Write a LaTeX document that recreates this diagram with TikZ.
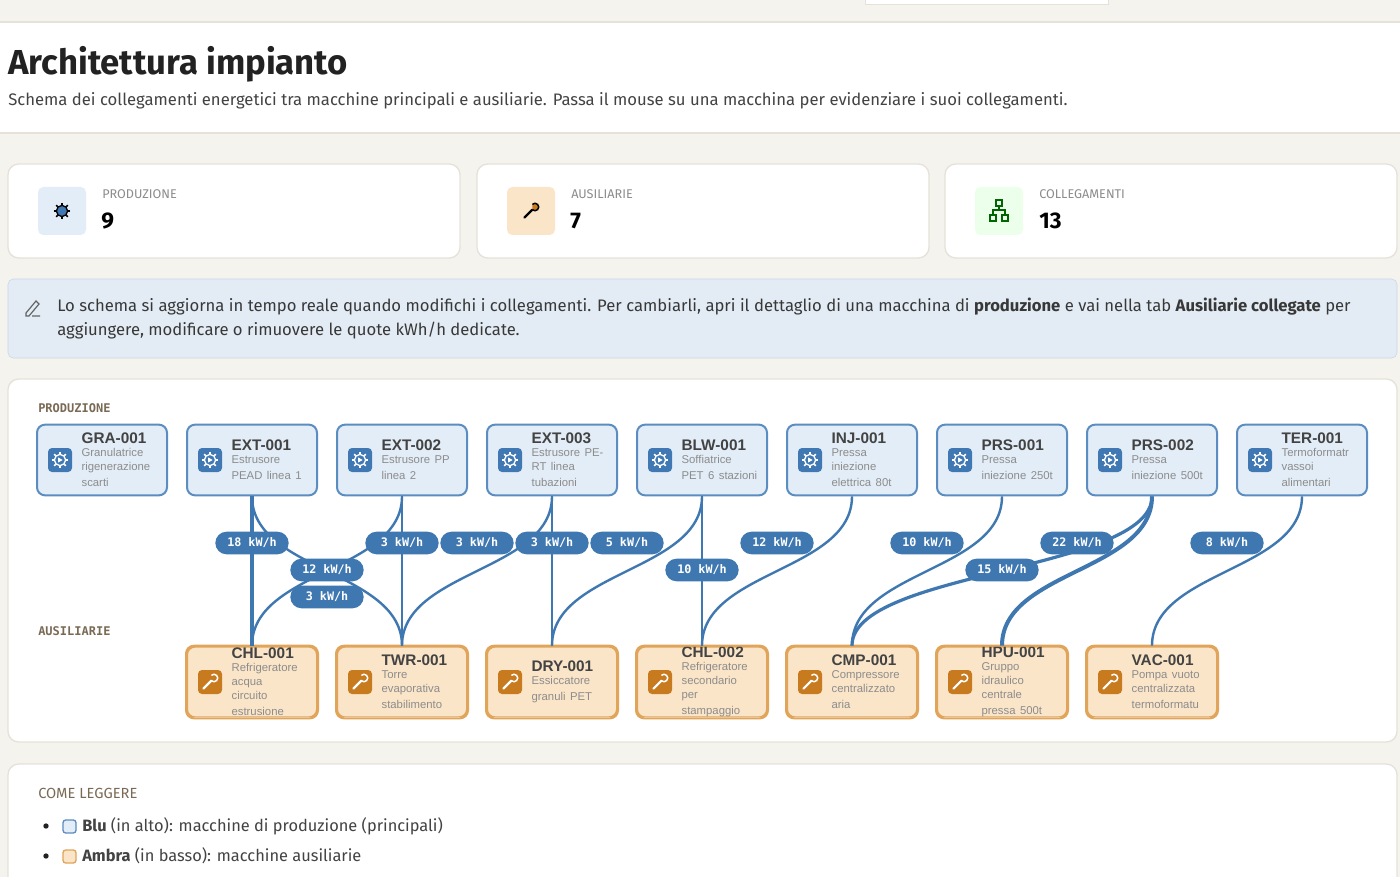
\documentclass[tikz,border=0pt]{standalone}
\usepackage{fontspec}
\setmainfont{Fira Sans}
\newfontfamily\monof{DejaVu Sans Mono}
\newfontfamily\nodef{Liberation Sans}
\newcommand\nohy{\hyphenpenalty=10000\exhyphenpenalty=10000\relax}
\definecolor{bg}{HTML}{F5F3EE}
\definecolor{edge}{HTML}{3F77B0}
\definecolor{pfill}{HTML}{E3EDF7}
\definecolor{pbord}{HTML}{5B8DC0}
\definecolor{picon}{HTML}{3F78B3}
\definecolor{afill}{HTML}{FBE5C8}
\definecolor{abord}{HTML}{E0A55A}
\definecolor{aicon}{HTML}{C87A1E}
\definecolor{gtxt}{HTML}{8C8C8C}
\definecolor{dtxt}{HTML}{222222}
\definecolor{brown}{HTML}{7A6A55}
\definecolor{cardb}{HTML}{E6E2DA}
\definecolor{infof}{HTML}{E3ECF5}
\definecolor{infob}{HTML}{C5D6E6}
\begin{document}
\begin{tikzpicture}[x=0.75pt,y=-0.75pt,
  pbox/.style={draw=pbord,fill=pfill,line width=1.5pt,rounded corners=6pt,minimum width=97.5pt,minimum height=53pt,inner sep=0},
  abox/.style={draw=abord,fill=afill,line width=1.5pt,rounded corners=6pt,minimum width=97.5pt,minimum height=53pt,inner sep=0},
  picon/.style={fill=picon,rounded corners=3pt,minimum size=18pt,inner sep=0},
  aicon/.style={fill=aicon,rounded corners=3pt,minimum size=18pt,inner sep=0},
  mtext/.style={anchor=west,align=left,inner sep=0,text width=70pt,font=\nodef\nohy},
  card/.style={draw=cardb,fill=white,line width=1pt,rounded corners=8pt},
  e/.style={draw=edge,line width=1.8pt},
  eb/.style={draw=edge,line width=3pt},
  em/.style={draw=edge,line width=2.4pt},
  lab/.style={fill=edge,text=white,rounded corners=8.5pt,minimum width=55pt,minimum height=17pt,inner sep=0,font=\monof\bfseries\fontsize{8.8}{8.8}\selectfont},
  small/.style={font=\fontsize{9.5}{9.5}\selectfont,text=gtxt,anchor=west,inner sep=0}]
\newcommand\gearico[2]{\draw[#2,line width=1pt] (#1) circle (4.2pt);
  \foreach \a in {0,45,...,315}{\draw[#2,line width=1.3pt] ($(#1)+(\a:4.6pt)$) -- ($(#1)+(\a:6.2pt)$);}
  \fill[#2] ($(#1)+(-1.4pt,-1.9pt)$) -- ($(#1)+(-1.4pt,1.9pt)$) -- ($(#1)+(2pt,0)$) -- cycle;}
\newcommand\wrenchico[2]{\draw[#2,line width=1.6pt,line cap=round] ($(#1)+(-5pt,-5pt)$) -- ($(#1)+(1pt,1pt)$);
  \draw[#2,line width=1.1pt] ($(#1)+(3pt,3pt)$) ++(225:2.8pt) arc (225:495:2.8pt);}
\newcommand\mach[6]{%
  \node[#6box] (#1) at (#2,#3) {};
  \node[#6icon] (#1i) at ([xshift=18pt]#1.west) {};
  \ifx#6p\gearico{#1i}{white}\else\wrenchico{#1i}{white}\fi
  \node[mtext] at ([xshift=34pt]#1.west) {{\fontsize{11.5}{13}\selectfont\bfseries\color{dtxt!85}#4}\\[-1pt]{\fontsize{8.5}{10.5}\selectfont\color{gtxt}#5}};}
\usetikzlibrary{calc}
\fill[bg] (0,0) rectangle (1400,877);
\useasboundingbox (0,0) rectangle (1400,877);
\fill[white,draw=cardb] (865,-5) rectangle (1108,4);
\fill[white] (0,22) rectangle (1400,133);
\draw[cardb,line width=1pt] (0,22) -- (1400,22) (0,133) -- (1400,133);
\node[anchor=west,inner sep=0,font=\fontsize{26}{26}\selectfont\bfseries,text=dtxt] (title) at (8,64) {Architettura impianto};
\node[anchor=west,inner sep=0,font=\fontsize{12.5}{12.5}\selectfont,text=dtxt!85] (sub) at (8,101) {Schema dei collegamenti energetici tra macchine principali e ausiliarie. Passa il mouse su una macchina per evidenziare i suoi collegamenti.};
\draw[card] (8,164) rectangle (460,258);
\draw[card] (477,164) rectangle (929,258);
\draw[card] (945,164) rectangle (1397,258);
\fill[pfill,rounded corners=4pt] (38,187) rectangle (86,235); \coordinate (g1) at (62,211); \gearico{g1}{picon}
\fill[afill,rounded corners=4pt] (507,187) rectangle (555,235); \coordinate (w1) at (531,211); \wrenchico{w1}{aicon}
\fill[green!8!white,rounded corners=4pt] (975,187) rectangle (1023,235);
\begin{scope}[shift={(999,211)},draw=green!40!black,line width=1pt]
 \draw (-3,-11) rectangle (3,-5); \draw (-9,4) rectangle (-3,10); \draw (3,4) rectangle (9,10);
 \draw (0,-5) -- (0,-1) (-6,4) -- (-6,-1) -- (6,-1) -- (6,4);
\end{scope}
\node[small] (s1) at (102,194) {PRODUZIONE};
\node[small] (s2) at (571,194) {AUSILIARIE};
\node[small] (s3) at (1039,194) {COLLEGAMENTI};
\node[anchor=west,inner sep=0,font=\fontsize{17}{17}\selectfont\bfseries] (n1) at (101,221) {9};
\node[anchor=west,inner sep=0,font=\fontsize{17}{17}\selectfont\bfseries] (n2) at (570,221) {7};
\node[anchor=west,inner sep=0,font=\fontsize{17}{17}\selectfont\bfseries] (n3) at (1039,221) {13};
\draw[fill=infof,draw=infob,rounded corners=4pt] (8,279) rectangle (1397,358);
\draw[dtxt!70,line width=0.9pt] (26,313) -- (36,301) -- (39,304) -- (29,316) -- (26,316) -- cycle (32,316) -- (40,316);
\node[anchor=west,inner sep=0,font=\fontsize{12.5}{12.5}\selectfont,text=dtxt!90] (i1) at (57,307) {Lo schema si aggiorna in tempo reale quando modifichi i collegamenti. Per cambiarli, apri il dettaglio di una macchina di \textbf{produzione} e vai nella tab \textbf{Ausiliarie collegate} per};
\node[anchor=west,inner sep=0,font=\fontsize{12.5}{12.5}\selectfont,text=dtxt!90] (i2) at (57,331) {aggiungere, modificare o rimuovere le quote kWh/h dedicate.};
\draw[card] (8,379) rectangle (1397,742);
\node[anchor=west,inner sep=0,font=\monof\bfseries\fontsize{9}{9}\selectfont,text=brown] (hp) at (38,408) {PRODUZIONE};
\node[anchor=west,inner sep=0,font=\monof\bfseries\fontsize{9}{9}\selectfont,text=brown] (ha) at (38,631) {AUSILIARIE};
\mach{gra}{102}{460}{GRA-001}{Granulatrice\\rigenerazione\\scarti}{p}
\mach{ext1}{252}{460}{EXT-001}{Estrusore\\PEAD linea 1}{p}
\mach{ext2}{402}{460}{EXT-002}{Estrusore PP\\linea 2}{p}
\mach{ext3}{552}{460}{EXT-003}{Estrusore PE-\\RT linea\\tubazioni}{p}
\mach{blw}{702}{460}{BLW-001}{Soffiatrice\\PET 6 stazioni}{p}
\mach{inj}{852}{460}{INJ-001}{Pressa\\iniezione\\elettrica 80t}{p}
\mach{prs1}{1002}{460}{PRS-001}{Pressa\\iniezione 250t}{p}
\mach{prs2}{1152}{460}{PRS-002}{Pressa\\iniezione 500t}{p}
\mach{ter}{1302}{460}{TER-001}{Termoformatr\\vassoi\\alimentari}{p}
\begin{scope}
\clip (0,630) rectangle (1400,716);
\mach{chl1}{252}{682}{CHL-001}{Refrigeratore\\acqua\\circuito\\estrusione}{a}
\mach{twr}{402}{682}{TWR-001}{Torre\\evaporativa\\stabilimento}{a}
\mach{dry}{552}{682}{DRY-001}{Essiccatore\\granuli PET}{a}
\mach{chl2}{702}{682}{CHL-002}{Refrigeratore\\secondario\\per\\stampaggio}{a}
\mach{cmp}{852}{682}{CMP-001}{Compressore\\centralizzato\\aria}{a}
\mach{hpu}{1002}{682}{HPU-001}{Gruppo\\idraulico\\centrale\\pressa 500t}{a}
\mach{vac}{1152}{682}{VAC-001}{Pompa vuoto\\centralizzata\\termoformatu}{a}
\end{scope}
\foreach \n in {chl1,twr,dry,chl2,cmp,hpu,vac}{\draw[abord,line width=1.5pt,rounded corners=6pt] (\n.south west) rectangle (\n.north east);}
\path[eb] (ext1.south) -- (chl1.north);
\path[e] (ext1.south) .. controls +(0,75) and +(0,-75) .. (twr.north);
\path[e] (ext2.south) .. controls +(0,75) and +(0,-75) .. (chl1.north);
\path[e] (ext2.south) -- (twr.north);
\path[e] (ext3.south) .. controls +(0,75) and +(0,-75) .. (twr.north);
\path[e] (ext3.south) -- (dry.north);
\path[e] (blw.south) .. controls +(0,75) and +(0,-75) .. (dry.north);
\path[e] (blw.south) -- (chl2.north);
\path[e] (inj.south) .. controls +(0,75) and +(0,-75) .. (chl2.north);
\path[e] (prs1.south) .. controls +(0,75) and +(0,-75) .. (cmp.north);
\path[em] (prs2.south) .. controls +(0,75) and +(0,-75) .. (cmp.north);
\path[eb] (prs2.south) .. controls +(0,75) and +(0,-75) .. (hpu.north);
\path[e] (ter.south) .. controls +(0,75) and +(0,-75) .. (vac.north);
\node[lab] (l1) at (252,543) {18 kW/h};
\node[lab] (l2) at (327,570) {12 kW/h};
\node[lab] (l3) at (327,597) {3 kW/h};
\node[lab] (l4) at (402,543) {3 kW/h};
\node[lab] (l5) at (477,543) {3 kW/h};
\node[lab] (l6) at (552,543) {3 kW/h};
\node[lab] (l7) at (627,543) {5 kW/h};
\node[lab] (l8) at (702,570) {10 kW/h};
\node[lab] (l9) at (777,543) {12 kW/h};
\node[lab] (l10) at (927,543) {10 kW/h};
\node[lab] (l11) at (1002,570) {15 kW/h};
\node[lab] (l12) at (1077,543) {22 kW/h};
\node[lab] (l13) at (1227,543) {8 kW/h};
\draw[card] (8,764) rectangle (1397,900);
\node[anchor=west,inner sep=0,font=\fontsize{11}{11}\selectfont,text=brown] (cl) at (38,793) {COME LEGGERE};
\fill[dtxt] (46,826) circle (2pt); \fill[dtxt] (46,856) circle (2pt);
\draw[fill=pfill,draw=pbord,rounded corners=2pt,line width=1pt] (63,820) rectangle (76,833);
\draw[fill=afill,draw=abord,rounded corners=2pt,line width=1pt] (63,850) rectangle (76,863);
\node[anchor=west,inner sep=0,font=\fontsize{12.3}{12.3}\selectfont,text=dtxt!85] (b1) at (82,826) {\textbf{Blu} (in alto): macchine di produzione (principali)};
\node[anchor=west,inner sep=0,font=\fontsize{12.3}{12.3}\selectfont,text=dtxt!85] (b2) at (82,856) {\textbf{Ambra} (in basso): macchine ausiliarie};
\end{tikzpicture}
\end{document}
